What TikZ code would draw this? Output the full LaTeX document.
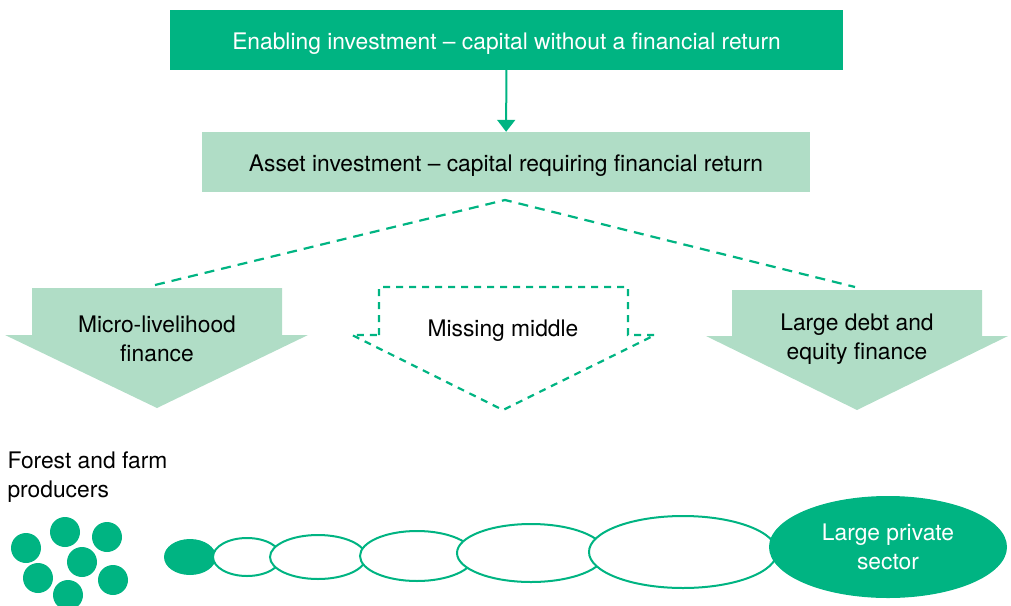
\documentclass[tikz,border=0pt]{standalone}
\usepackage{fontspec}
\setmainfont{TeX Gyre Heros}
\usetikzlibrary{arrows.meta, shapes.geometric}
\definecolor{fgreen}{RGB}{0,180,130}
\definecolor{lgreen}{RGB}{176,221,198}

\begin{document}
\begin{tikzpicture}[x=1pt,y=-1pt,
  txt/.style={font=\fontsize{22.8}{29.5}\selectfont, align=center},
  bar/.style={txt, minimum height=60pt, text height=18pt, text depth=0pt},
  dashline/.style={draw=fgreen, line width=2.2pt, dash pattern=on 10pt off 7pt}]
  \useasboundingbox (0,0) rectangle (1011,605);

  % Draw the two boxes at the top
  \node[bar, fill=fgreen, text=white, minimum width=673pt] (enable) at (506.5,40)
    {Enabling investment -- capital without a financial return};
  \node[bar, fill=lgreen, minimum width=608pt] (asset) at (506,162)
    {Asset investment -- capital requiring financial return};
  \draw[fgreen, line width=2pt, -{Triangle[width=18pt,length=12pt]}] (enable) -- (asset);

  % Dashed branches
  \coordinate (apex) at (505,200);
  \coordinate (leftend) at (155,285);
  \coordinate (rightend) at (855,287);
  \draw[dashline] (leftend) -- (apex) -- (rightend);

  % Draw the block arrows
  \fill[lgreen] (32,288) -- (282,288) -- (282,335) -- (308,335) -- (157,408) -- (5,335) -- (32,335) -- cycle;
  \fill[lgreen] (732,290) -- (982,290) -- (982,336) -- (1008,336) -- (857,410) -- (706,336) -- (732,336) -- cycle;
  \draw[dashline, dash pattern=on 7pt off 6pt] (379,335) -- (379,287) -- (628,287) -- (628,335) -- (655,335)
    -- (503,410) -- (352,335) -- cycle;
  \node[txt] (micro) at (157,339) {Micro-livelihood\\finance};
  \node[txt] (missing) at (503,331) {Missing middle};
  \node[txt] (large) at (857,339) {Large debt and\\equity finance};

  % Label the producers
  \node[txt, align=left, anchor=west] (producers) at (4,477) {Forest and farm\\producers};

  % Small circles
  \foreach \cx/\cy in {26/548, 65/532, 107/537, 82/562, 38/578, 113/580, 68/595}
    \fill[fgreen] (\cx,\cy) circle (15pt);

  % Chain of ellipses
  \fill[fgreen] (190,557) ellipse [x radius=26pt, y radius=18pt];
  \foreach \cx/\cy/\rx/\ry in {247/557/34/19, 318/557/48/22, 417/556/57/25, 531/553/74/29, 683/552/94/36}
    \filldraw[draw=fgreen, fill=white, line width=2pt] (\cx,\cy) ellipse [x radius=\rx pt, y radius=\ry pt];
  \node[txt, ellipse, fill=fgreen, text=white, minimum width=238pt, minimum height=102pt] (privsector) at (888,547)
    {Large private\\sector};

\end{tikzpicture}
\end{document}
